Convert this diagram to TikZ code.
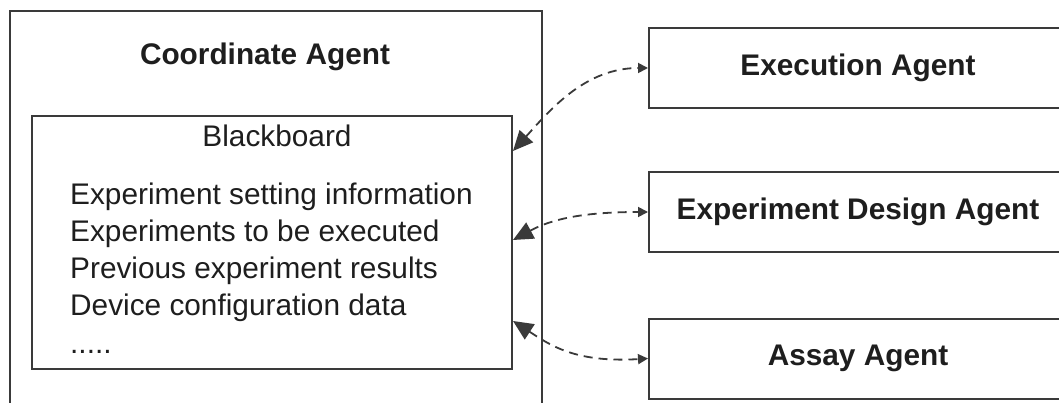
\documentclass[tikz,border=0pt]{standalone}
\usepackage{fontspec}
\setmainfont{Liberation Sans}
\usetikzlibrary{arrows.meta}
\definecolor{ink}{HTML}{1E1E1E}
\definecolor{edge}{HTML}{3A3A3A}

\begin{document}
\begin{tikzpicture}[x=1pt,y=-1pt,
  frame/.style={draw=edge, line width=2pt, inner sep=0pt},
  txt/.style={text=ink, inner sep=0pt, font=\fontsize{29.8}{36}\selectfont},
  lbl/.style={txt, anchor=base},
  bold/.style={txt, anchor=base, font=\fontsize{29.8}{36}\selectfont\bfseries},
  item/.style={txt, anchor=base west},
  agent/.style={frame, txt, font=\fontsize{29.8}{36}\selectfont\bfseries,
                minimum width=418pt, minimum height=80pt},
  link/.style={draw=edge, line width=1.8pt, dash pattern=on 9pt off 6pt,
               {Triangle[length=20pt,width=18pt]}-{Triangle[length=10pt,width=10pt]}}
]
\useasboundingbox (0,0) rectangle (1059,403);
\clip (0,0) rectangle (1059,403);

% coordinator with its blackboard
\node[frame, minimum width=532pt, minimum height=419pt] (coord) at (276,220.5) {};
\node[bold] (ctitle) at (265,65) {Coordinate Agent};
\node[frame, minimum width=480pt, minimum height=253pt] (bb) at (272,242.5) {};
\node[lbl] (bbtitle) at (277,147) {Blackboard};
\node[item] (i1) at (70,205) {Experiment setting information};
\node[item] (i2) at (70,242) {Experiments to be executed};
\node[item] (i3) at (70,278) {Previous experiment results};
\node[item] (i4) at (70,315) {Device configuration data};
\node[item] (i5) at (70,353) {.....};

% agents on the right
\node[agent] (exe) at (858,68) {Execution Agent};
\node[agent] (des) at (858,212) {Experiment Design Agent};
\node[agent] (asy) at (858,358.5) {Assay Agent};

% ports on the blackboard edge
\coordinate (pA) at ([yshift=-36pt]bb.north east);
\coordinate (pB) at ([yshift=-125pt]bb.north east);
\coordinate (pC) at ([yshift=-206pt]bb.north east);

% dashed two-way links
\draw[link] (pA) .. controls (550,110) and (585,68) .. (exe.west);
\draw[link] (pB) .. controls (550,220) and (580,212) .. (des.west);
\draw[link] (pC) .. controls (550,345) and (575,363) .. (asy.west);
\end{tikzpicture}
\end{document}
